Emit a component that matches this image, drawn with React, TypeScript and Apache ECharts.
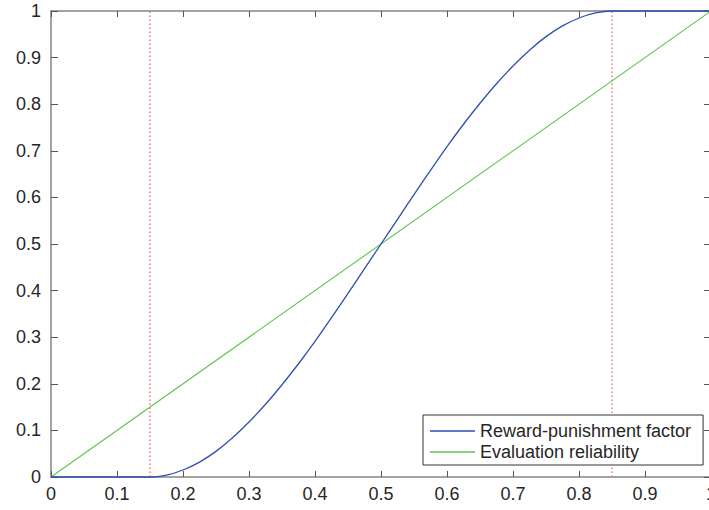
import React, { useEffect, useRef } from "react";
import * as echarts from "echarts";

const rewardX = [
  0, 0.05, 0.1, 0.15, 0.175, 0.2, 0.225, 0.25, 0.275, 0.3, 0.325, 0.35, 0.375, 0.4, 0.425, 0.45, 0.475,
  0.5, 0.525, 0.55, 0.575, 0.6, 0.625, 0.65, 0.675, 0.7, 0.725, 0.75, 0.775, 0.8, 0.825, 0.85, 0.9, 0.95, 1,
];
const rewardY = [
  0, 0, 0, 0, 0.004, 0.015, 0.032, 0.055, 0.084, 0.118, 0.156, 0.198, 0.243, 0.291, 0.342, 0.394, 0.447,
  0.5, 0.553, 0.606, 0.658, 0.709, 0.757, 0.802, 0.844, 0.882, 0.916, 0.945, 0.968, 0.985, 0.996, 1, 1, 1, 1,
];
const reliabilityX = [0, 1];
const reliabilityY = [0, 1];
const thresholds = [0.15, 0.85];
const seriesNames = ["Reward-punishment factor", "Evaluation reliability"];
const seriesColors = ["#2f4fb0", "#5cc64a"];

const FONT = "'Liberation Sans', Arial, Helvetica, sans-serif";
const AXIS_COLOR = "#858585";
const TICK_COLOR = "#555555";
const TEXT_COLOR = "#262626";

export default function App() {
  const ref = useRef<HTMLDivElement>(null);
  useEffect(() => {
    if (!ref.current) return;
    const chart = echarts.init(ref.current, null, { renderer: "svg" });
    const base = {
      type: "value" as const,
      min: 0,
      max: 1,
      interval: 0.1,
      splitLine: { show: false },
      axisLine: { show: true, onZero: false, lineStyle: { color: AXIS_COLOR, width: 1.5 } },
    };
    const tick = (len: number) => ({ show: true, inside: true, length: len, lineStyle: { color: TICK_COLOR, width: 1 } });
    const labelStyle = {
      show: true,
      fontSize: 18,
      fontFamily: FONT,
      color: TEXT_COLOR,
      formatter: (v: number) => String(+v.toFixed(1)),
    };
    const thresholdSeries = thresholds.map((t, i) => ({
      name: "threshold" + i,
      type: "line" as const,
      data: [
        [t, 0],
        [t, 1],
      ],
      symbol: "none",
      silent: true,
      z: 1,
      lineStyle: { color: "#ff5050", width: 1.2, type: [1.5, 2.5] },
    }));
    chart.setOption({
      animation: false,
      backgroundColor: "#ffffff",
      grid: { left: 51, top: 11, right: 9, bottom: 33, containLabel: false, outerBoundsMode: "none" },
      xAxis: [
        { ...base, position: "bottom", axisTick: tick(6), axisLabel: { ...labelStyle, margin: 8 } },
        { ...base, position: "top", axisTick: tick(6), axisLabel: { show: false } },
      ],
      yAxis: [
        { ...base, position: "left", axisTick: tick(7), axisLabel: { ...labelStyle, margin: 10 } },
        { ...base, position: "right", axisTick: tick(7), axisLabel: { show: false } },
      ],
      legend: {
        data: seriesNames.map((n) => ({ name: n, icon: "rect" })),
        orient: "vertical",
        left: 423,
        top: 415,
        padding: [7, 12, 4, 7],
        itemGap: 3,
        itemWidth: 45,
        itemHeight: 1.5,
        backgroundColor: "#ffffff",
        borderColor: "#333333",
        borderWidth: 1,
        borderRadius: 0,
        textStyle: { fontSize: 18, fontFamily: FONT, color: TEXT_COLOR },
      },
      series: [
        ...thresholdSeries,
        {
          name: seriesNames[1],
          type: "line",
          data: reliabilityX.map((x, i) => [x, reliabilityY[i]]),
          symbol: "none",
          clip: false,
          z: 2,
          lineStyle: { color: seriesColors[1], width: 1.1 },
          itemStyle: { color: seriesColors[1] },
        },
        {
          name: seriesNames[0],
          type: "line",
          data: rewardX.map((x, i) => [x, rewardY[i]]),
          symbol: "none",
          smooth: 0.2,
          clip: false,
          z: 3,
          lineStyle: { color: seriesColors[0], width: 1.3 },
          itemStyle: { color: seriesColors[0] },
        },
      ],
    });
    return () => chart.dispose();
  }, []);
  return (
    <div style={{ position: "fixed", left: 0, top: 0, width: 709, height: 510, overflow: "hidden", background: "#fff" }}>
      <div ref={ref} style={{ width: 720, height: 510 }} />
    </div>
  );
}
